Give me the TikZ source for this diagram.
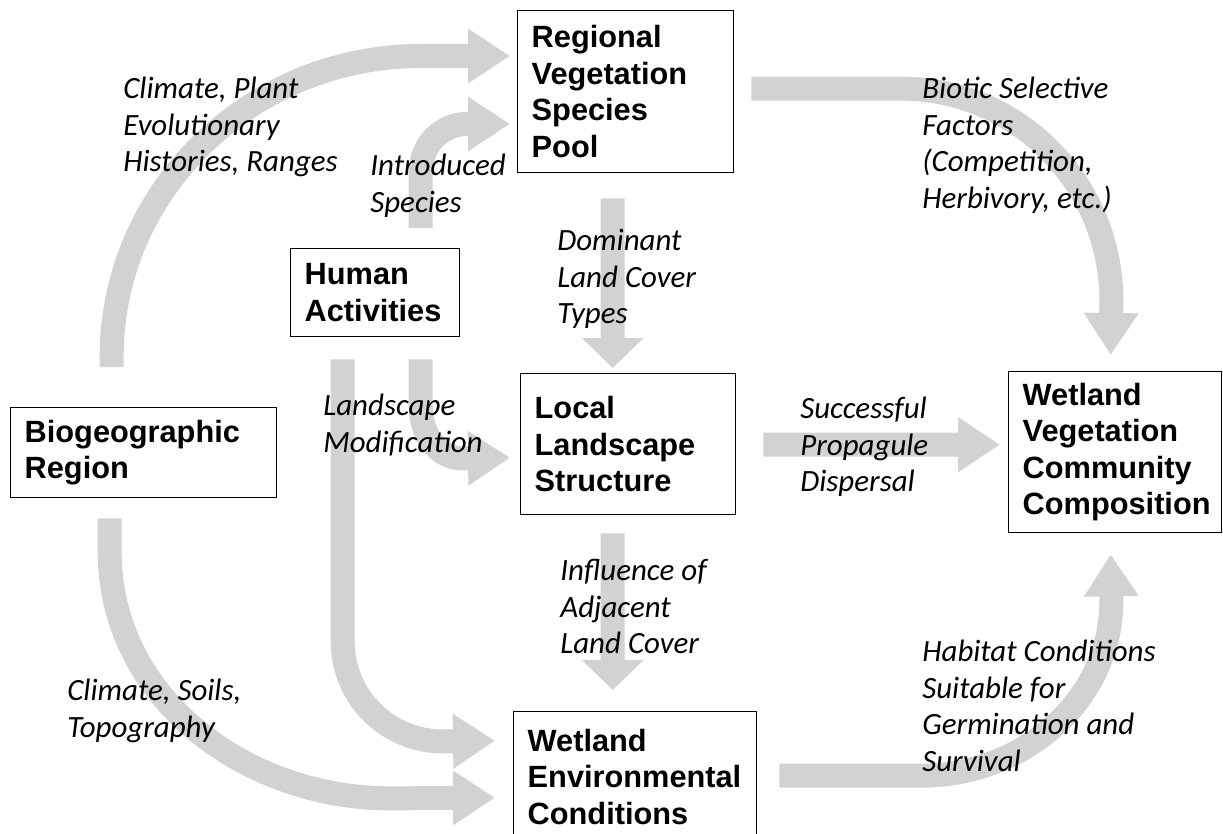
\documentclass[tikz,border=0pt]{standalone}
\usepackage{fontspec}
\setmainfont{Liberation Sans}
\newfontfamily\labelfamily{Carlito}
\usetikzlibrary{arrows.meta, calc}

\pgfdeclarelayer{background}
\pgfsetlayers{background,main}

\definecolor{flowgray}{RGB}{210,210,210}

\begin{document}
\begin{tikzpicture}[x=0.02cm, y=0.02cm,
    box/.style={rectangle, draw, line width=0.8pt, anchor=north west, align=left, inner xsep=0.28cm, inner ysep=0pt, font=\fontsize{17.5}{20.8}\selectfont\bfseries},
    lbl/.style={anchor=north west, align=left, inner sep=0pt, font=\labelfamily\itshape\fontsize{17.6}{20.8}\selectfont},
    flow/.style={draw=flowgray, line width=0.48cm, -{Triangle[length=0.84cm, width=1.04cm]}},
    flowshort/.style={draw=flowgray, line width=0.48cm, -{Triangle[length=0.6cm, width=1.2cm]}}]

\path[use as bounding box] (0,0) rectangle (1223,-834);
\clip (0,0) rectangle (1223,-834);

% boxes
\node [box, text width=3.76cm, minimum height=3.24cm] (pool) at (517,-10) {Regional\\Vegetation\\Species\\Pool};
\node [box, text width=2.82cm, minimum height=1.76cm] (human) at (290,-248) {Human\\Activities};
\node [box, text width=4.76cm, minimum height=1.8cm] (bio) at (10,-407) {Biogeographic\\Region};
\node [box, text width=3.74cm, minimum height=2.82cm] (local) at (520,-373) {Local\\Landscape\\Structure};
\node [box, text width=3.70cm, minimum height=3.22cm] (veg) at (1008,-371) {Wetland\\Vegetation\\Community\\Composition};
\node [box, text width=4.30cm, minimum height=2.6cm] (env) at (513,-711) {Wetland\\Environmental\\Conditions};

% labels
\node [lbl] (lblclimate) at (123,-77) {Climate, Plant\\Evolutionary\\Histories, Ranges};
\node [lbl] (lblintro) at (370,-154) {Introduced\\Species};
\node [lbl] (lbldominant) at (557,-229) {Dominant\\Land Cover\\Types};
\node [lbl] (lblbiotic) at (922,-77) {Biotic Selective\\Factors\\(Competition,\\Herbivory, etc.)};
\node [lbl] (lbllandmod) at (323,-394) {Landscape\\Modification};
\node [lbl] (lblsuccess) at (800,-397) {Successful\\Propagule\\Dispersal};
\node [lbl] (lblinfluence) at (560,-559) {Influence of\\Adjacent\\Land Cover};
\node [lbl] (lblsoils) at (67,-679) {Climate, Soils,\\Topography};
\node [lbl] (lblhabitat) at (922,-640) {Habitat Conditions\\Suitable for\\Germination and\\Survival};

% flows
\begin{pgfonlayer}{background}
\fill [white] (0,0) rectangle (1223,-834);
\draw [flow] ($(bio.north)+(-32,40)$) -- ++(0,10) to[out=90,in=180] ++(309,301) -- ($(pool.north west)+(-7,-46)$);
\draw [flow] ($(human.north)+(45.5,20)$) -- ++(0,56) to[out=90,in=180] ++(46,48) -- ($(pool.north west)+(-7,-114)$);
\draw [flowshort] ($(pool.south)+(-13,-25)$) -- ($(local.north)+(-15.5,5)$);
\draw [flow] ($(pool.east)+(17,3)$) -- ++(150,0) to[out=0,in=90] ++(210,-212) -- ($(veg.north)+(-4.5,16)$);
\draw [flow] ($(human.south)+(45.5,-22)$) -- ++(0,-47) to[out=-90,in=180] ++(42,-52) -- ($(local.west)+(-10,-13.5)$);
\draw [flow] ($(human.south)+(-32.5,-22)$) -- ++(0,-282) to[out=-90,in=180] ++(100,-100) -- ($(env.west)+(-18,36)$);
\draw [flow] ($(bio.south)+(-34,-20)$) -- ++(0,-33) to[out=-90,in=180] ++(281,-247) -- ($(env.west)+(-18,-21)$);
\draw [flowshort] ($(local.south)+(-15.5,-18)$) -- ($(env.north)+(-22.5,21)$);
\draw [flow] ($(local.east)+(27,-0.5)$) -- ($(veg.west)+(-8,7.5)$);
\draw [flow] ($(env.east)+(22,1)$) -- ++(142,0) to[out=0,in=-90] ++(190,175) -- ($(veg.south)+(-4.5,-21)$);
\end{pgfonlayer}
\end{tikzpicture}
\end{document}
